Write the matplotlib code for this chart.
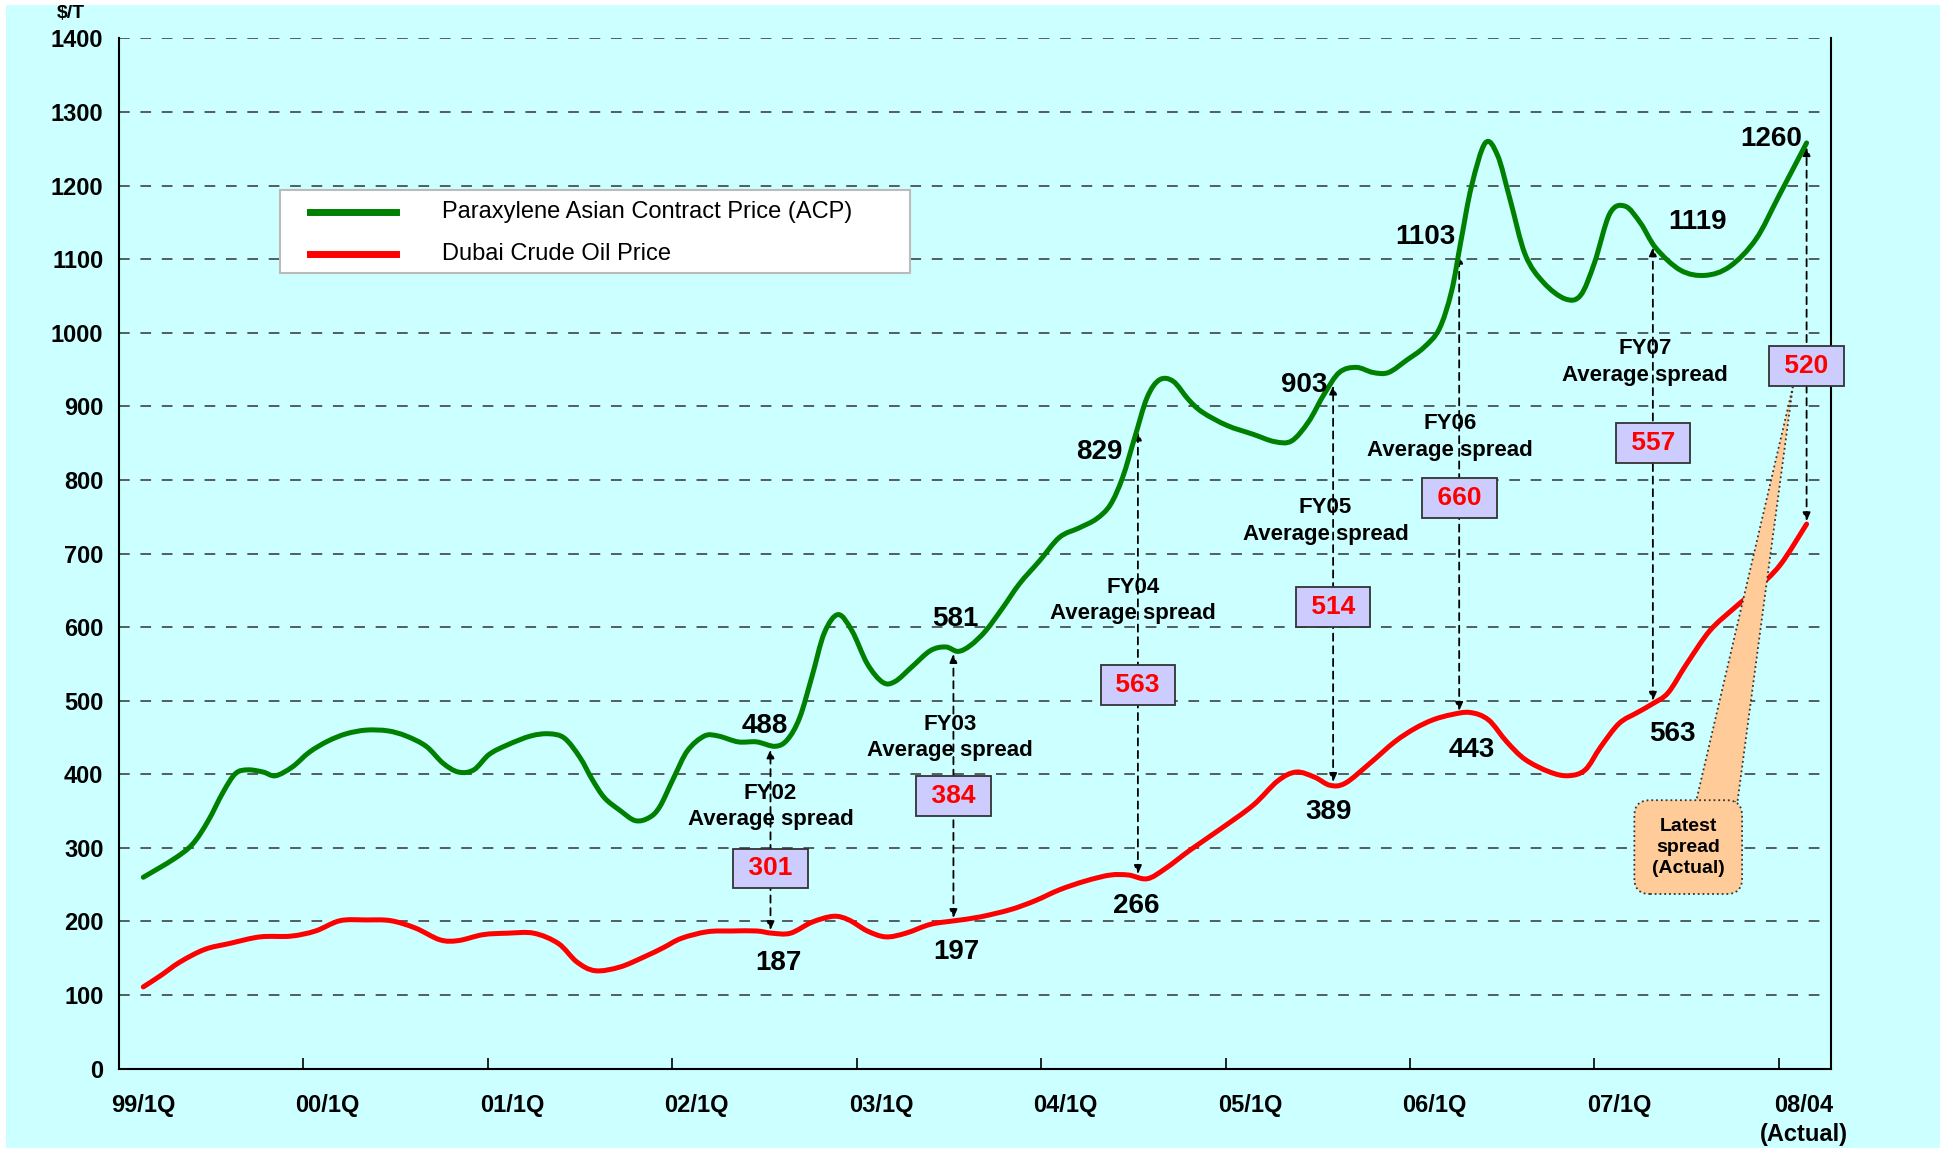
import numpy as np
import matplotlib
matplotlib.use('Agg')
import matplotlib.pyplot as plt
from matplotlib.patches import Polygon, Rectangle, PathPatch
from matplotlib.path import Path
from matplotlib.lines import Line2D

# x axis is in months counted from the 99/1Q tick
tick_month = [0, 12, 24, 36, 48, 60, 72, 84, 96, 108]
tick_label = ['99/1Q', '00/1Q', '01/1Q', '02/1Q', '03/1Q', '04/1Q', '05/1Q', '06/1Q', '07/1Q', '08/04\n(Actual)']

# Paraxylene ACP ($/T)
acp_month = [1.6, 3.6, 4.8, 5.8, 6.8, 7.6, 8.4, 9.4, 10.2, 11.3, 12.4, 13.6, 14.8, 16.1, 17.5,
             18.7, 20.0, 21.1, 22.1, 23.1, 24.1, 25.3, 26.8, 28.0, 29.0, 30.0, 30.8, 31.6, 32.6,
             33.6, 34.5, 35.2, 36.1, 37.0, 38.1, 39.0, 40.3, 41.5, 42.7, 43.5, 44.3, 45.1, 45.9,
             46.8, 47.7, 48.7, 49.7, 50.5, 51.6, 52.8, 53.8, 54.6, 55.4, 56.4, 57.5, 58.6, 59.9,
             61.2, 62.5, 63.6, 64.5, 65.3, 66.1, 66.9, 67.7, 68.6, 69.6, 70.5, 72.1, 73.8, 75.2,
             76.3, 77.4, 78.4, 79.4, 80.5, 81.6, 82.6, 83.8, 84.9, 85.9, 86.7, 87.3, 88.0, 88.9,
             89.7, 90.5, 91.5, 92.7, 94.1, 95.1, 96.0, 97.0, 98.0, 99.0, 100.0, 101.6, 103.2,
             104.8, 106.5, 108.0, 109.8]
acp_price = [260, 285, 305, 336, 376, 401, 406, 403, 398, 410, 430, 445, 455, 460, 459,
             452, 438, 415, 403, 406, 427, 440, 452, 455, 449, 423, 393, 368, 351,
             337, 341, 356, 395, 432, 452, 452, 444, 444, 438, 447, 477, 533, 592,
             617, 595, 550, 525, 526, 546, 568, 573, 567, 575, 595, 626, 659, 690,
             722, 735, 747, 766, 803, 858, 912, 936, 934, 909, 892, 874, 862, 852,
             853, 879, 916, 946, 953, 946, 946, 963, 980, 1005, 1056, 1123, 1199, 1258,
             1241, 1182, 1106, 1068, 1046, 1051, 1095, 1162, 1172, 1149, 1115, 1085, 1078,
             1090, 1127, 1186, 1258]

# Dubai crude ($/T)
crude_month = [1.6, 2.7, 4.0, 5.6, 7.2, 9.2, 11.2, 12.8, 14.4, 16.1, 17.7, 19.3, 20.9, 22.1,
               23.7, 25.3, 27.0, 28.6, 29.8, 31.0, 32.6, 34.2, 35.4, 36.6, 38.3, 39.9, 41.5,
               42.5, 43.7, 45.1, 46.5, 47.5, 48.7, 49.9, 51.2, 52.8, 54.4, 56.0, 58.0, 59.6,
               61.2, 62.9, 64.5, 65.7, 66.9, 68.1, 69.7, 71.7, 73.8, 75.4, 76.6, 77.8, 78.8,
               79.8, 81.4, 83.0, 84.3, 85.5, 86.7, 87.9, 89.1, 90.3, 91.5, 93.1, 94.3, 95.4,
               96.4, 97.6, 98.8, 99.8, 100.8, 102.0, 103.5, 105.1, 106.5, 108.1, 109.8]
crude_price = [111, 126, 145, 162, 170, 179, 180, 187, 201, 202, 201, 191, 175, 174,
               182, 184, 184, 170, 145, 133, 138, 152, 164, 177, 186, 187, 187,
               184, 184, 199, 207, 202, 187, 179, 184, 196, 201, 206, 216, 228,
               243, 255, 263, 263, 258, 272, 297, 326, 358, 391, 403, 396, 385,
               388, 415, 444, 462, 474, 481, 484, 474, 444, 420, 403, 398, 406,
               437, 469, 484, 496, 511, 550, 595, 626, 651, 685, 740]

# spread annotations
spread_month = [42.4, 54.3, 66.3, 79.0, 87.2, 99.8, 109.8]
spread_value = ['301', '384', '563', '514', '660', '557', '520']
spread_box_y = [272, 371, 521, 627, 776, 850, 955]
fy_label = ['FY02', 'FY03', 'FY04', 'FY05', 'FY06', 'FY07']
fy_x = [42.4, 54.1, 66.0, 78.5, 86.6, 99.3]
fy_y = [356, 450, 636, 744, 858, 960]

acp_label = ['488', '581', '829', '903', '1103', '1119', '1260']
acp_label_x = [42.0, 54.4, 63.8, 77.1, 85.0, 102.7, 107.5]
acp_label_y = [466, 611, 838, 929, 1130, 1150, 1263]
crude_label = ['187', '197', '266', '389', '443', '563']
crude_label_x = [42.9, 54.5, 66.2, 78.7, 88.0, 101.1]
crude_label_y = [143, 159, 221, 349, 433, 455]

series_label = ['Paraxylene Asian Contract Price (ACP)', 'Dubai Crude Oil Price']

BG = '#ccffff'
GREEN = '#008000'
RED = '#ff0000'
plt.rcParams['font.family'] = ['Liberation Sans', 'DejaVu Sans']


def smooth_path(xs, ys):
    # Excel style smoothed line: cubic bezier through every point
    p = np.column_stack([xs, ys]).astype(float)
    verts = [p[0]]
    codes = [Path.MOVETO]
    n = len(p)
    for i in range(n - 1):
        p0 = p[i - 1] if i > 0 else p[i]
        p3 = p[i + 2] if i + 2 < n else p[i + 1]
        c1 = p[i] + (p[i + 1] - p0) / 6.0
        c2 = p[i + 1] - (p3 - p[i]) / 6.0
        verts += [c1, c2, p[i + 1]]
        codes += [Path.CURVE4] * 3
    return Path(verts, codes)


fig = plt.figure(figsize=(19.46, 11.51), dpi=100, facecolor='white')
fig.patches.append(Rectangle((0.003, 0.003), 0.994, 0.993, transform=fig.transFigure,
                             facecolor=BG, edgecolor='none', zorder=-10))
ax = fig.add_axes([0.061, 0.0716, 0.880, 0.895])
ax.patch.set_visible(False)

for xs, ys, col in [(acp_month, acp_price, GREEN), (crude_month, crude_price, RED)]:
    ax.add_patch(PathPatch(smooth_path(xs, ys), fc='none', ec=col, lw=3.6,
                           capstyle='round', joinstyle='round', zorder=3))

ax.set_xlim(0, 111.4)
ax.set_ylim(0, 1400)
ax.set_yticks(np.arange(0, 1401, 100))
ax.yaxis.grid(True, ls=(0, (7, 7)), color='#333333', lw=1.1)
ax.set_axisbelow(True)
ax.tick_params(axis='y', length=0, pad=11, labelsize=17)
for t in ax.get_yticklabels():
    t.set_fontweight('bold')
ax.spines['top'].set_visible(False)
for s in ['left', 'bottom', 'right']:
    ax.spines[s].set_linewidth(1.5)

ax.set_xticks(tick_month)
ax.set_xticklabels([])
ax.tick_params(axis='x', direction='in', length=8, width=1.2)
for m, lab in zip(tick_month, tick_label):
    ax.text(m + 1.6, -0.025, lab, transform=ax.get_xaxis_transform(), ha='center', va='top',
            fontsize=17, fontweight='bold', family=['Liberation Sans Narrow', 'Liberation Sans'],
            linespacing=1.3)

ax.text(-0.028, 1.024, '$/T', transform=ax.transAxes, ha='center', va='center',
        fontsize=14, fontweight='bold')

# dashed spread arrows between the two curves
for m in spread_month:
    top = np.interp(m, acp_month, acp_price)
    bot = np.interp(m, crude_month, crude_price)
    ax.annotate('', xy=(m, top), xytext=(m, bot),
                arrowprops=dict(arrowstyle='<|-|>,head_length=0.5,head_width=0.22',
                                ls=(0, (4, 3)), lw=1.3, color='black',
                                shrinkA=2, shrinkB=3), zorder=2.5)

for m, y, lab in zip(fy_x, fy_y, fy_label):
    ax.text(m, y, lab + '\nAverage spread', ha='center', va='center', fontsize=16,
            fontweight='bold', linespacing=1.35, zorder=4)

for m, y, lab in zip(spread_month, spread_box_y, spread_value):
    ax.text(m, y, ' ' + lab + ' ', ha='center', va='center', fontsize=19, fontweight='bold',
            color=RED, zorder=6,
            bbox=dict(boxstyle='square,pad=0.3', fc='#ccccff', ec='#333333', lw=1.3))

for m, y, lab in zip(acp_label_x, acp_label_y, acp_label):
    ax.text(m, y, lab, ha='center', va='center', fontsize=20, fontweight='bold', zorder=4)
for m, y, lab in zip(crude_label_x, crude_label_y, crude_label):
    ax.text(m, y, lab, ha='center', va='center', fontsize=20, fontweight='bold', zorder=4)

# callout for latest spread
pointer = Polygon([(102.6, 362), (105.3, 362), (108.9, 926)], closed=True,
                  fc='#ffcc99', ec='#333333', ls=':', lw=1.3, zorder=5)
ax.add_patch(pointer)
ax.text(102.1, 301, 'Latest\nspread\n(Actual)', ha='center', va='center', fontsize=14,
        fontweight='bold', linespacing=1.3, zorder=6,
        bbox=dict(boxstyle='round,pad=0.9,rounding_size=0.8', fc='#ffcc99', ec='#333333',
                  ls=':', lw=1.3))

# legend box drawn in axes fraction
ax.add_patch(Rectangle((0.094, 0.772), 0.368, 0.081, transform=ax.transAxes, fc='white',
                       ec='#bbbbbb', lw=1.5, zorder=7))
for yy, col, lab in zip([0.8313, 0.7904], [GREEN, RED], series_label):
    ax.add_line(Line2D([0.1116, 0.162], [yy, yy], transform=ax.transAxes, color=col, lw=5,
                       zorder=8))
    ax.text(0.189, yy, lab, transform=ax.transAxes, ha='left', va='center', fontsize=17,
            zorder=8)

fig.savefig('out.png', dpi=100, facecolor=fig.get_facecolor())
